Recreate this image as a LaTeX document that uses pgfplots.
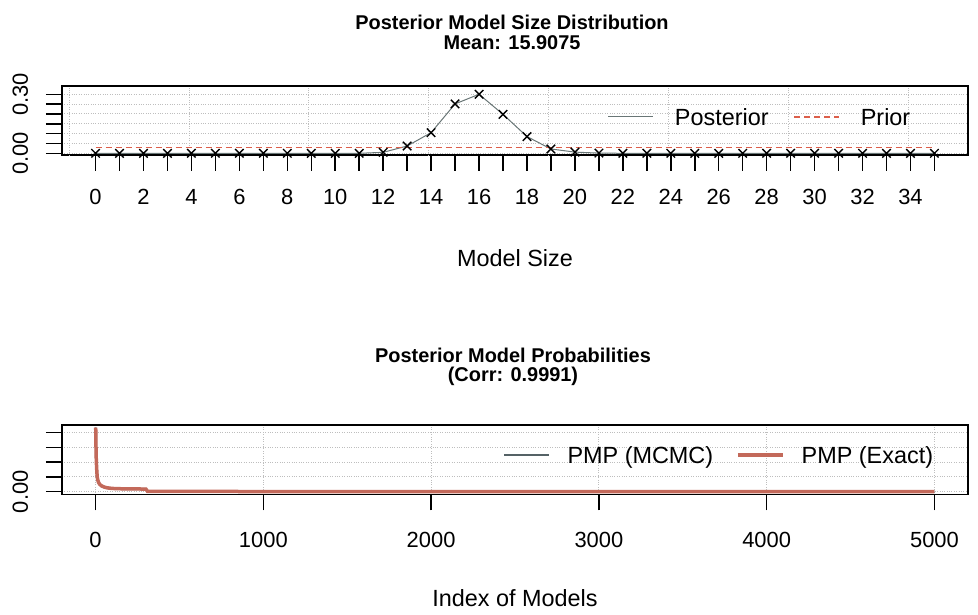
\documentclass[border=0pt]{standalone}
\usepackage{fontspec}
\setmainfont{Liberation Sans}
\usepackage{pgfplots}
\pgfplotsset{compat=1.18}

\definecolor{postgray}{RGB}{105,118,118}
\definecolor{priorred}{RGB}{220,95,75}
\definecolor{mcmc}{RGB}{85,98,102}
\definecolor{exact}{RGB}{195,105,90}
\definecolor{gridgray}{RGB}{190,190,190}

\pgfplotsset{
  rplot/.style={
    scale only axis, width=906bp, anchor=south west,
    axis line style={line width=1.4bp},
    tick style={black, line width=1.5bp},
    tick align=outside, major tick length=16bp,
    xtick pos=bottom, ytick pos=left,
    grid style={gridgray, dotted, line width=1bp},
    ymajorgrids,
    ticklabel style={font=\fontsize{22}{24}\selectfont},
    /pgf/number format/assume math mode=true,
    xticklabel style={anchor=base},
    yticklabel style={rotate=90, anchor=base},
    yticklabel shift=18bp,
    scaled ticks=false,
    xlabel style={font=\fontsize{23.5}{26}\selectfont, at={(axis description cs:0.5,0)}, anchor=base, yshift=-112bp},
    legend style={draw=none, fill=none, inner sep=0pt, outer sep=0pt,
      font=\fontsize{23.5}{26}\selectfont, nodes={inner sep=0pt},
      legend columns=-1},
    legend image code/.code={\draw[##1, mark=none] (0bp,1bp) -- (45bp,1bp);},
  }
}

\begin{document}
\begin{tikzpicture}
\path[use as bounding box] (0,0) rectangle (978bp,615bp);

% posterior model size distribution
\begin{axis}[rplot, at={(62bp,460bp)}, height=69bp,
  xmin=-1.4, xmax=36.4, ymin=-0.0086, ymax=0.342,
  xtick={0,...,35},
  xticklabels={0,,2,,4,,6,,8,,10,,12,,14,,16,,18,,20,,22,,24,,26,,28,,30,,32,,34,},
  xticklabel shift=34bp,
  ytick={0,0.05,0.1,0.15,0.2,0.25,0.3},
  yticklabels={0.00,,,,,,0.30},
  extra x ticks={-1.1,3.9,8.9,13.9,18.9,23.9,28.9,33.9},
  extra x tick labels={},
  extra x tick style={grid=major, major tick length=0pt},
  xlabel={Model Size},
  legend style={at={(0.6026,0.537)}, anchor=west,
    /tikz/every odd column/.append style={column sep=21bp},
    /tikz/every even column/.append style={column sep=25bp}},
]
\addplot[postgray, line width=1bp, mark=x, mark size=6bp,
  mark options={black, line width=1.4bp}] coordinates {
(0,0) (1,0) (2,0) (3,0) (4,0) (5,0) (6,0) (7,0) (8,0) (9,0) (10,0) (11,0)
(12,0.005) (13,0.037) (14,0.105) (15,0.251) (16,0.300) (17,0.198)
(18,0.085) (19,0.022) (20,0.006) (21,0.001) (22,0) (23,0) (24,0) (25,0)
(26,0) (27,0) (28,0) (29,0) (30,0) (31,0) (32,0) (33,0) (34,0) (35,0)
};
\addlegendentry{Posterior}
\addplot[priorred, line width=1.2bp, dash pattern=on 6bp off 4bp] coordinates {
(0,0.0278) (35,0.0278)
};
\addlegendentry{Prior}
\end{axis}

% posterior model probabilities
\begin{axis}[rplot, at={(62bp,120.7bp)}, height=69.3bp,
  xmin=-200, xmax=5200, ymin=-0.0088, ymax=0.226,
  xtick={0,1000,2000,3000,4000,5000},
  xticklabels={0,1000,2000,3000,4000,5000},
  xticklabel shift=37bp,
  xmajorgrids,
  ytick={0,0.05,0.1,0.15,0.2},
  yticklabels={0.00,,,,},
  xlabel={Index of Models},
  legend style={at={(0.4868,0.553)}, anchor=west,
    /tikz/every odd column/.append style={column sep=17bp},
    /tikz/every even column/.append style={column sep=23bp}},
]
\addplot[mcmc, line width=2.5bp] coordinates {
(1,0.217) (2,0.17) (3,0.14) (4,0.115) (5,0.1) (6,0.085) (8,0.065) (10,0.05)
(13,0.04) (18,0.031) (25,0.025) (35,0.02) (50,0.016) (70,0.013) (100,0.011)
(150,0.01) (200,0.0095) (300,0.009) (310,0.001) (1000,0.0006) (2000,0.0004)
(3000,0.0003) (4000,0.0002) (5000,0.0001)
};
\addlegendentry{PMP (MCMC)}
\addplot[exact, line width=3.5bp] coordinates {
(1,0.217) (2,0.17) (3,0.14) (4,0.115) (5,0.1) (6,0.085) (8,0.065) (10,0.05)
(13,0.04) (18,0.031) (25,0.025) (35,0.02) (50,0.016) (70,0.013) (100,0.011)
(150,0.01) (200,0.0095) (300,0.009) (310,0.001) (1000,0.0006) (2000,0.0004)
(3000,0.0003) (4000,0.0002) (5000,0.0001)
};
\addlegendentry{PMP (Exact)}
\end{axis}

\begin{scope}[every node/.style={anchor=base, font=\bfseries\fontsize{20}{22}\selectfont}]
\node at (512bp,585.7bp) {Posterior Model Size Distribution};
\node at (512bp,565bp) {Mean: 15.9075};
\node at (513bp,252.3bp) {Posterior Model Probabilities};
\node at (513bp,233.3bp) {(Corr: 0.9991)};
\end{scope}
\end{tikzpicture}
\end{document}
